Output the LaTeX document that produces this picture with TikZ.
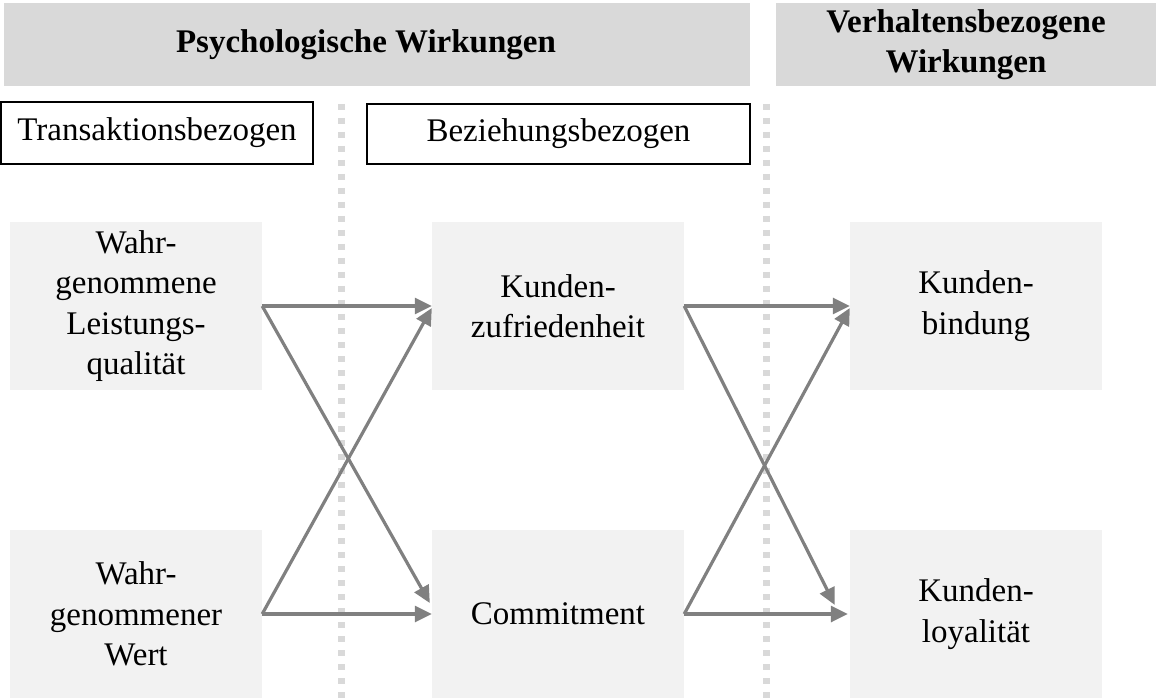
\documentclass[tikz,border=0pt]{standalone}
\usepackage{fontspec}
\setmainfont{Liberation Serif}
\usepackage{tikz}
\usetikzlibrary{arrows.meta, positioning}
\definecolor{headgray}{RGB}{217, 217, 217}
\definecolor{boxgray}{RGB}{242, 242, 242}
\definecolor{arrowgray}{RGB}{128, 128, 128}

\begin{document}
\begin{tikzpicture}[
    x=1pt, y=-1pt,
    font=\fontsize{33}{40.5}\selectfont,
    header/.style={fill=headgray, minimum height=83pt, align=center, font=\fontsize{33}{40}\selectfont\bfseries},
    tagbox/.style={draw, line width=1.5pt, inner sep=0pt},
    effect/.style={fill=boxgray, minimum width=252pt, minimum height=168pt, align=center},
    separator/.style={headgray, line width=7pt, dash pattern=on 6pt off 8pt},
    flow/.style={-{Triangle[length=17pt, width=16pt]}, arrowgray, line width=3.2pt}
]
    \useasboundingbox (0,0) rectangle (1158,700);

    % column headers
    \node[header, minimum width=746pt] (psy) at (377,44.5) {};
    \node[font=\fontsize{33}{40}\selectfont\bfseries] (psytext) at (366,44.5) {Psychologische Wirkungen};
    \node[header, minimum width=380pt] (verh) at (966,44.5) {Verhaltensbezogene\\Wirkungen};
    \node[tagbox, minimum width=312pt, minimum height=62pt] (trans) at (157,133) {Transaktionsbezogen};
    \node[tagbox, minimum width=383pt, minimum height=60pt] (bez) at (558.5,134) {Beziehungsbezogen};

    % dotted separators
    \draw[separator] (341,104) -- (341,700);
    \draw[separator] (766,104) -- (766,700);

    \node[effect] (wlq) at (136,306) {Wahr-\\genommene\\Leistungs-\\qualität};
    \node[effect] (ww) at (136,614) {Wahr-\\genommener\\Wert};
    \node[effect] (kz) at (558,306) {Kunden-\\zufriedenheit};
    \node[effect] (com) at (558,614) {Commitment};
    \node[effect] (kb) at (976,306) {Kunden-\\bindung};
    \node[effect] (kl) at (976,614) {Kunden-\\loyalität};

    \draw[flow] (wlq.east) -- (kz.west);
    \draw[flow] (wlq.east) -- ([xshift=-2pt, yshift=11pt]com.west);
    \draw[flow] (ww.east) -- ([yshift=-2pt]kz.west);
    \draw[flow] (ww.east) -- (com.west);

    \draw[flow] (kz.east) -- (kb.west);
    \draw[flow] (kz.east) -- ([xshift=-15pt, yshift=9pt]kl.west);
    \draw[flow] (com.east) -- ([yshift=-2pt]kb.west);
    \draw[flow] (com.east) -- ([xshift=-2pt]kl.west);
\end{tikzpicture}
\end{document}
